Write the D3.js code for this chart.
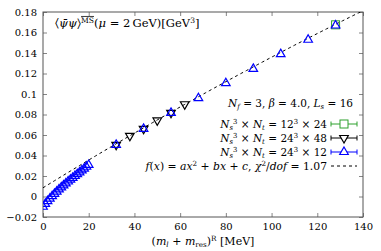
<!DOCTYPE html>
<html>
<head>
<meta charset="utf-8">
<script src="https://cdn.jsdelivr.net/npm/d3@7"></script>
<style>
  body { margin: 0; background: #fff; }
  text { font-family: "DejaVu Serif", serif; fill: #000; }
</style>
</head>
<body>
<div id="chart"></div>
<script>
// data
var lowX  = [0, 1, 2, 3, 4, 5, 6, 7, 8, 9, 10, 11, 12, 13, 14, 15, 16, 17, 18, 19, 20]
var lowY  = [-0.0100, -0.0072, -0.0046, -0.0021, 0.0003, 0.0026, 0.0048, 0.0069, 0.0089, 0.0108,
             0.0127, 0.0146, 0.0164, 0.0182, 0.0200, 0.0218, 0.0236, 0.0254, 0.0272, 0.0290, 0.0308]
var blueX  = lowX.concat([32, 44, 56, 68, 80, 92, 104, 116, 128])
var blueY  = lowY.concat([0.0504, 0.0660, 0.0816, 0.0959, 0.1105, 0.1245, 0.1389, 0.1529, 0.1668])
var blackX = [32, 38, 44, 50, 56, 62]
var blackY = [0.0504, 0.0592, 0.0660, 0.0742, 0.0816, 0.0900]
var greenX = [128]
var greenY = [0.1675]
// fit f(x) = a x^2 + b x + c
var fitA = -1.0e-6, fitB = 0.001374, fitC = 0.0085
var xTicks = [0, 20, 40, 60, 80, 100, 120, 140]
var yTicks = [-0.02, 0, 0.02, 0.04, 0.06, 0.08, 0.1, 0.12, 0.14, 0.16, 0.18]

var width = 381, height = 251
var pL = 43, pR = 363, pT = 12, pB = 217

var x = d3.scaleLinear().domain([0, 140]).range([pL, pR])
var y = d3.scaleLinear().domain([-0.02, 0.18]).range([pB, pT])

var svg = d3.select("#chart")
  .append("svg")
    .attr("width", width)
    .attr("height", height)

svg.append("clipPath").attr("id", "clip")
  .append("rect")
    .attr("x", pL).attr("y", pT)
    .attr("width", pR - pL).attr("height", pB - pT)

var fmtY = function(d) { return d === 0 ? "0" : String(+d.toFixed(2)).replace("-", "\u2212") }

// axes, ticks pointing inwards
svg.append("g")
    .attr("transform", "translate(0," + pB + ")")
    .call(d3.axisBottom(x).tickValues(xTicks).tickSize(-4).tickPadding(6))
svg.append("g")
    .attr("transform", "translate(0," + pT + ")")
    .call(d3.axisTop(x).tickValues(xTicks).tickSize(-4).tickFormat(""))
svg.append("g")
    .attr("transform", "translate(" + pL + ",0)")
    .call(d3.axisLeft(y).tickValues(yTicks).tickSize(-4).tickPadding(6).tickFormat(fmtY))
svg.append("g")
    .attr("transform", "translate(" + pR + ",0)")
    .call(d3.axisRight(y).tickValues(yTicks).tickSize(-4).tickFormat(""))

svg.selectAll(".domain").remove()
svg.selectAll(".tick line").attr("stroke", "#666").attr("stroke-width", 0.8)
svg.selectAll(".tick text")
    .style("font-family", "DejaVu Serif, serif")
    .style("font-size", "10px")
    .attr("fill", "#000")

svg.append("rect")
    .attr("x", pL).attr("y", pT)
    .attr("width", pR - pL).attr("height", pB - pT)
    .attr("fill", "none")
    .attr("stroke", "#555")
    .attr("stroke-width", 1)

// little helper for math-ish text: parts of [string, style]
function mathText(g, px, py, anchor, size, parts) {
  var t = g.append("text")
      .attr("x", px).attr("y", py)
      .attr("text-anchor", anchor)
      .style("font-size", size + "px")
  var shift = 0
  parts.forEach(function(p) {
    var s = p[1] || ""
    var target = s.indexOf("sub") >= 0 ? size * 0.22 : s.indexOf("sup") >= 0 ? -size * 0.35 : 0
    var ts = t.append("tspan").text(p[0]).attr("dy", target - shift)
    shift = target
    if (s.indexOf("i") === 0 || s.indexOf(" i") >= 0) ts.style("font-style", "italic")
    if (target !== 0) ts.style("font-size", (size * 0.66) + "px")
    if (s.indexOf("ov") >= 0) ts.style("text-decoration", "overline")
  })
  return t
}

var plot = svg.append("g").attr("clip-path", "url(#clip)")

// fit curve
var fitPts = d3.range(0, 140.5, 1).map(function(v) { return [v, fitA * v * v + fitB * v + fitC] })
plot.append("path")
    .datum(fitPts)
    .attr("d", d3.line().x(function(d) { return x(d[0]) }).y(function(d) { return y(d[1]) }))
    .attr("fill", "none")
    .attr("stroke", "#000")
    .attr("stroke-width", 1)
    .attr("stroke-dasharray", "3,3")

var triUp = d3.symbol().type(d3.symbolTriangle).size(32)
var blue = "#0000ff", green = "#2ca02c"

plot.selectAll(".blk")
    .data(blackX)
  .enter().append("path")
    .attr("d", triUp)
    .attr("transform", function(d, i) { return "translate(" + x(d) + "," + y(blackY[i]) + ") rotate(180)" })
    .attr("fill", "none")
    .attr("stroke", "#000")
    .attr("stroke-width", 1.2)

plot.selectAll(".grn")
    .data(greenX)
  .enter().append("rect")
    .attr("x", function(d) { return x(d) - 4 })
    .attr("y", function(d, i) { return y(greenY[i]) - 4 })
    .attr("width", 8).attr("height", 8)
    .attr("fill", "none")
    .attr("stroke", green)
    .attr("stroke-width", 1)

plot.selectAll(".blu")
    .data(blueX)
  .enter().append("path")
    .attr("d", triUp)
    .attr("transform", function(d, i) { return "translate(" + x(d) + "," + y(blueY[i]) + ")" })
    .attr("fill", "none")
    .attr("stroke", blue)
    .attr("stroke-width", 1.2)

// title
mathText(svg, 55, 27, "start", 11.5, [
  ["\u2329"], ["\u03C8\u0304\u03C8", "i"], ["\u232A"], ["MS", "sup ov"],
  ["("], ["\u03BC", "i"], [" = 2\u2009GeV)[GeV"], ["3", "sup"], ["]"]
])

// legend
var lg = svg.append("g")
mathText(lg, 353, 107, "end", 10.5, [
  ["N", "i"], ["f", "i sub"], [" = 3, "], ["\u03B2", "i"], [" = 4.0, "], ["L", "i"], ["s", "i sub"], [" = 16"]
])
var rows = [
  { yy: 124, lab: "12", nt: "24", kind: "sq", col: green },
  { yy: 138, lab: "24", nt: "48", kind: "dn", col: "#000" },
  { yy: 152, lab: "24", nt: "12", kind: "up", col: blue }
]
rows.forEach(function(r) {
  mathText(lg, 327, r.yy + 3.5, "end", 10.5, [
    ["N", "i"], ["s", "i sub"], ["3", "sup"], [" \u00D7 "], ["N", "i"], ["t", "i sub"],
    [" = " + r.lab], ["3", "sup"], [" \u00D7 " + r.nt]
  ])
  lg.append("line")
      .attr("x1", 331).attr("x2", 357).attr("y1", r.yy).attr("y2", r.yy)
      .attr("stroke", r.col).attr("stroke-width", 1)
  ;[331, 357].forEach(function(cx) {
    lg.append("line")
        .attr("x1", cx).attr("x2", cx).attr("y1", r.yy - 2.5).attr("y2", r.yy + 2.5)
        .attr("stroke", r.col).attr("stroke-width", 1)
  })
  if (r.kind === "sq") {
    lg.append("rect").attr("x", 340).attr("y", r.yy - 4).attr("width", 8).attr("height", 8)
        .attr("fill", "#fff").attr("stroke", r.col).attr("stroke-width", 1)
  } else {
    lg.append("path").attr("d", triUp)
        .attr("transform", "translate(344," + r.yy + ")" + (r.kind === "dn" ? " rotate(180)" : ""))
        .attr("fill", "#fff").attr("stroke", r.col).attr("stroke-width", 1.2)
  }
})
mathText(lg, 327, 170, "end", 10.8, [
  ["f", "i"], ["("], ["x", "i"], [") = "], ["ax", "i"], ["2", "sup"], [" + "], ["bx", "i"], [" + "], ["c", "i"],
  [", "], ["\u03C7", "i"], ["2", "sup"], ["/"], ["dof", "i"], [" = 1.07"]
])
lg.append("line")
    .attr("x1", 331).attr("x2", 357).attr("y1", 166).attr("y2", 166)
    .attr("stroke", "#000").attr("stroke-width", 1).attr("stroke-dasharray", "3,3")

// x label
mathText(svg, 203, 245, "middle", 11, [
  ["("], ["m", "i"], ["l", "i sub"], [" + "], ["m", "i"], ["res", "sub"], [")"], ["R", "sup"], [" [MeV]"]
])
</script>
</body>
</html>
